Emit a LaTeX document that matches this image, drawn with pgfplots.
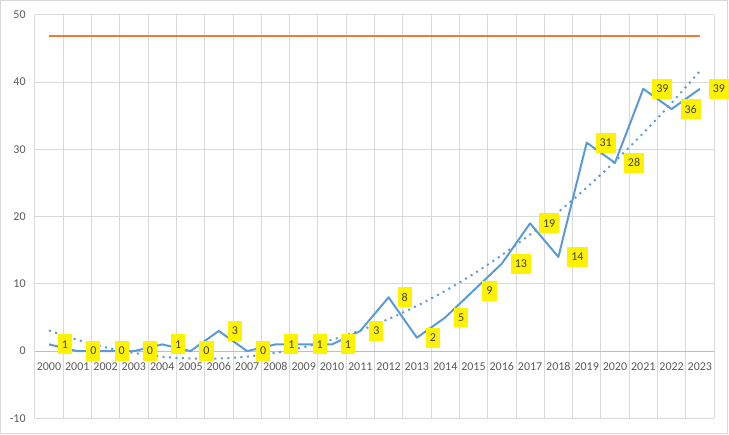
\documentclass[border=0pt]{standalone}
\usepackage{pgfplots}
\pgfplotsset{compat=1.18}
\usepackage{fontspec}
\setmainfont{Carlito}
\definecolor{xlBlue}{RGB}{91,155,213}
\definecolor{xlOrange}{RGB}{237,125,49}
\definecolor{xlGrid}{RGB}{217,217,217}
\definecolor{xlAxis}{RGB}{191,191,191}
\definecolor{xlText}{RGB}{89,89,89}
\definecolor{xlLabel}{RGB}{64,64,64}

\begin{document}
\begin{tikzpicture}[x=1pt,y=1pt]
\draw[xlGrid,line width=0.75pt] (0.5,0.5) rectangle (728.5,434.5);
\begin{axis}[
  at={(35pt,16pt)}, anchor=south west, scale only axis,
  width=680pt, height=404pt,
  xmin=-0.5, xmax=23.5, ymin=-10, ymax=50,
  clip=false,
  axis x line=middle, axis y line=left,
  x axis line style={draw=xlAxis,line width=0.75pt,-},
  y axis line style={draw=xlGrid,line width=0.75pt,-},
  hide obscured x ticks=false, hide obscured y ticks=false,
  xtick={0,...,23},
  xticklabels={2000,2001,2002,2003,2004,2005,2006,2007,2008,2009,2010,2011,
               2012,2013,2014,2015,2016,2017,2018,2019,2020,2021,2022,2023},
  minor xtick={-0.5,0.5,...,23.5},
  ytick={-10,0,...,50},
  major tick length=0pt, minor tick length=0pt,
  xminorgrids=true, ymajorgrids=true,
  grid style={xlGrid,line width=0.75pt},
  minor grid style={xlGrid,line width=0.75pt},
  tick label style={font=\fontsize{12pt}{14pt}\selectfont, text=xlText, inner sep=0pt},
  xticklabel style={anchor=north, yshift=-11pt},
  yticklabel style={anchor=east, xshift=-9pt},
  /pgf/number format/assume math mode=true,
]
% main series
\addplot[xlBlue, line width=2pt, line join=round,
  nodes near coords={\pgfmathprintnumber{\pgfplotspointmeta}},
  every node near coord/.append style={anchor=west, xshift=8pt, yshift=0pt,
    fill=yellow, text=xlLabel, inner xsep=4pt, inner ysep=0pt,
    minimum height=20pt, font=\fontsize{12pt}{14pt}\selectfont},
] table[x=t, y=n] {
t n
0 1
1 0
2 0
3 0
4 1
5 0
6 3
7 0
8 1
9 1
10 1
11 3
12 8
13 2
14 5
15 9
16 13
17 19
18 14
19 31
20 28
21 39
22 36
23 39
};
% constant orange line
\addplot[xlOrange, line width=2pt] coordinates {(0,46.8) (23,46.8)};
% polynomial trend
\addplot[xlBlue, line width=2pt, dash pattern=on 2pt off 4.5pt, smooth] table[x=t, y=f] {
t f
0 3.07
1 1.68
2 0.56
3 -0.27
4 -0.83
5 -1.10
6 -1.10
7 -0.82
8 -0.26
9 0.58
10 1.69
11 3.09
12 4.77
13 6.72
14 8.96
15 11.47
16 14.27
17 17.34
18 20.69
19 24.32
20 28.23
21 32.42
22 36.89
23 41.63
};
\end{axis}
\end{tikzpicture}
\end{document}
